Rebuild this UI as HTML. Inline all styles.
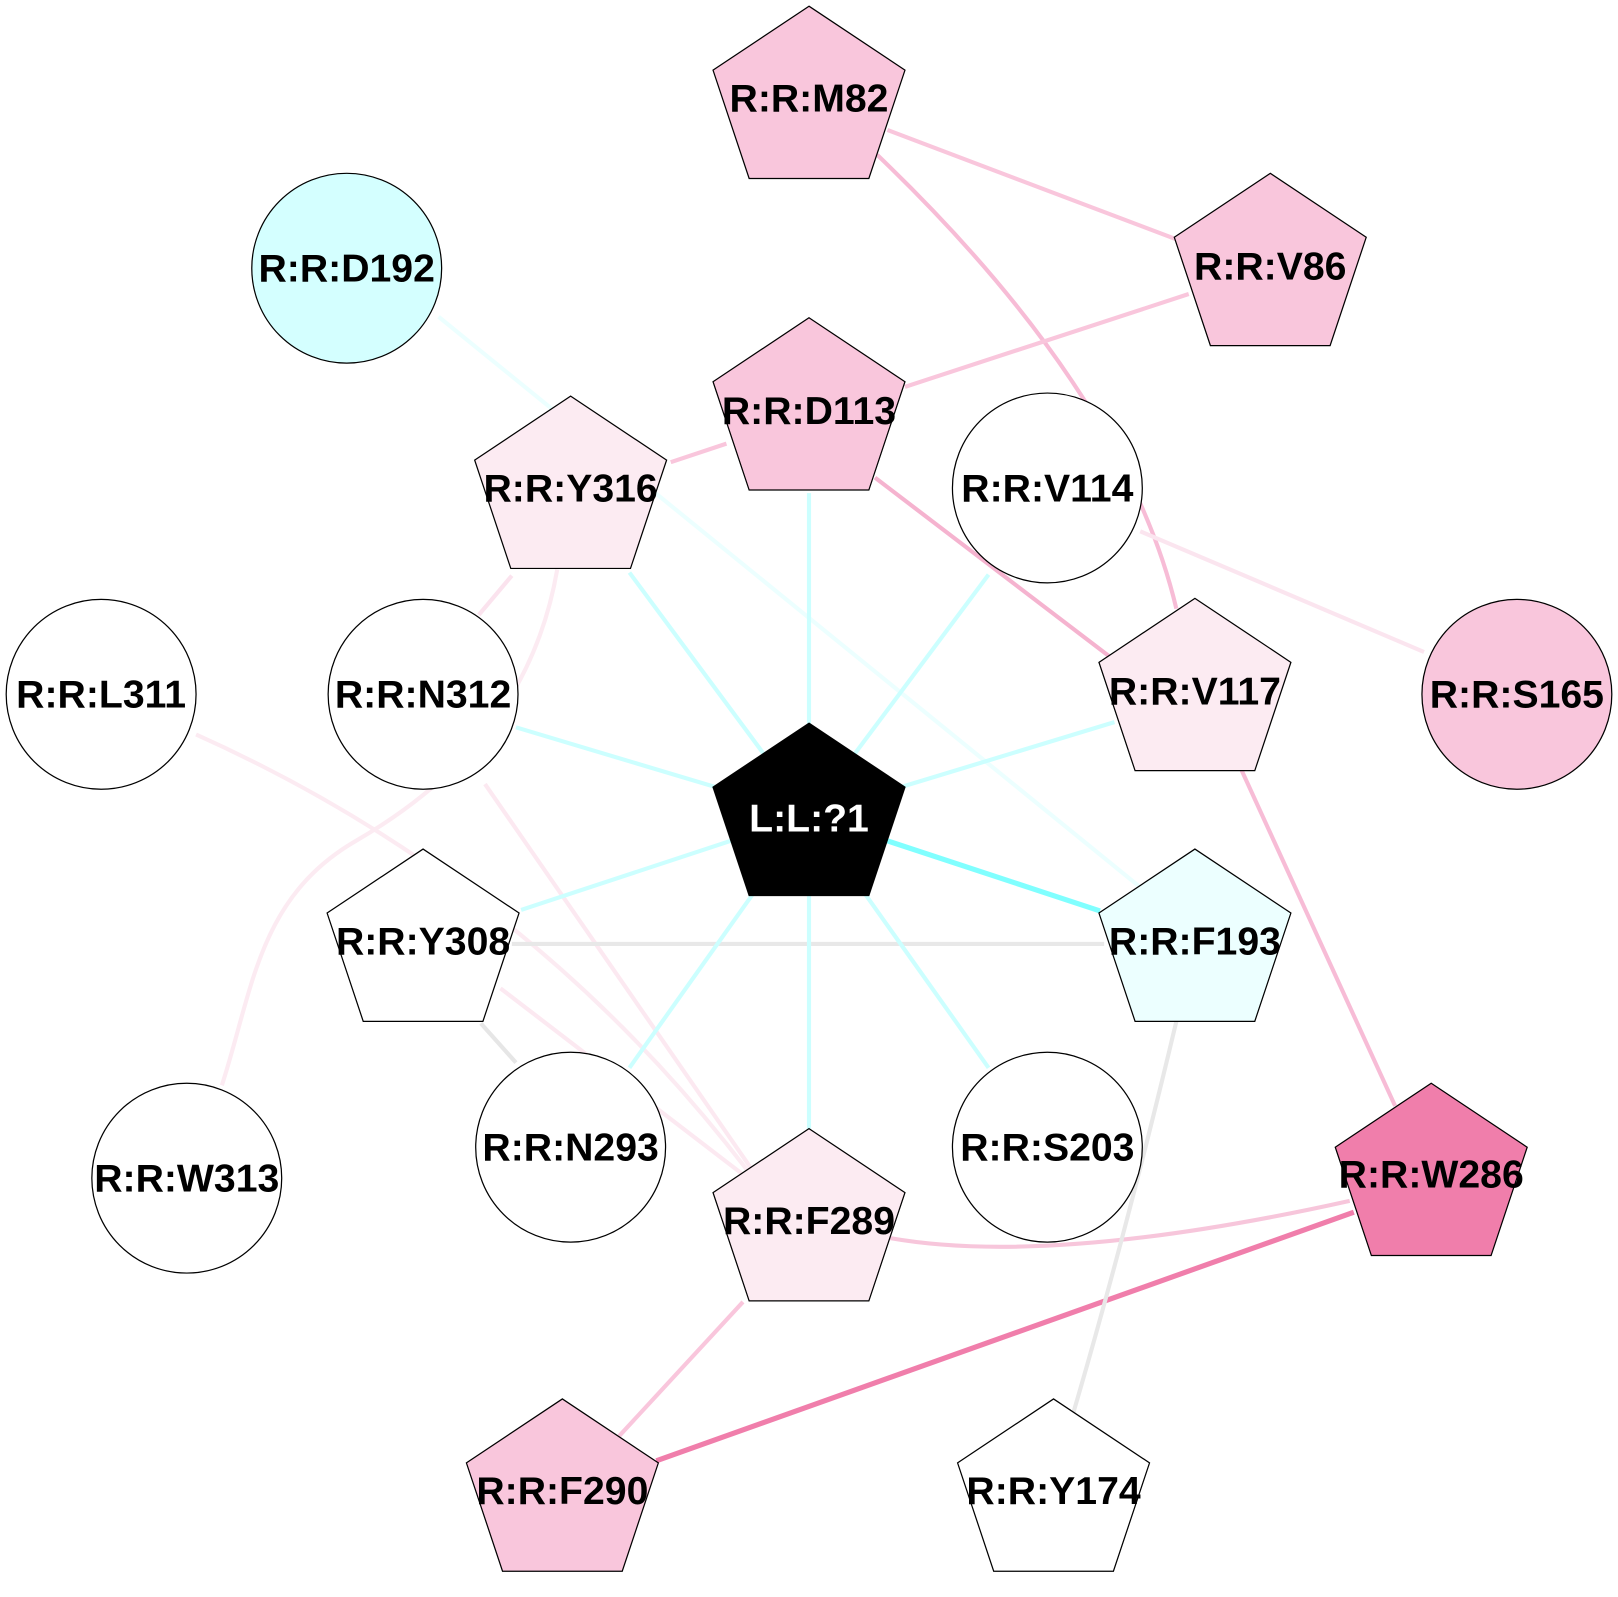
<!DOCTYPE html>
<html><head><meta charset="utf-8"><style>
html,body{margin:0;padding:0;background:#fff}
svg{display:block}
text{font-family:"Liberation Sans",Arial,sans-serif;font-weight:bold;font-size:38px;text-anchor:middle}
</style></head><body>
<svg width="1618" height="1597" viewBox="0 0 1568 1548" preserveAspectRatio="none" xmlns="http://www.w3.org/2000/svg">
<defs>
<polygon id="p" points="0,0 93,62 58,167 -58,167 -93,62" stroke="#000" stroke-width="1.2"/>
</defs>
<g fill="none" stroke-linecap="butt">
<line x1="860" y1="126" x2="1140" y2="232" stroke="#f9c6dc" stroke-width="4"/>
<path d="M850,150 Q1090,380 1140,590" stroke="#f7bcd6" stroke-width="4"/>
<line x1="1152" y1="285" x2="877" y2="375" stroke="#f9c6dc" stroke-width="4"/>
<line x1="704" y1="430" x2="650" y2="448" stroke="#f9c6dc" stroke-width="4"/>
<line x1="848" y1="463" x2="1080" y2="640" stroke="#f5b3cf" stroke-width="4"/>
<line x1="1105" y1="515" x2="1380" y2="632" stroke="#fbe5ef" stroke-width="4"/>
<line x1="1197" y1="733" x2="1352" y2="1072" stroke="#f7bcd6" stroke-width="4"/>
<path d="M1308,1164 Q1020,1228 862,1200" stroke="#f7c6db" stroke-width="4"/>
<line x1="1312" y1="1175" x2="636" y2="1416" stroke="#f07eab" stroke-width="5"/>
<line x1="720" y1="1262" x2="600" y2="1392" stroke="#f9c6dc" stroke-width="4"/>
<line x1="496" y1="558" x2="464" y2="596" stroke="#fbe3ee" stroke-width="4"/>
<path d="M540,552 C518,680 440,760 345,815 S245,960 215,1052" stroke="#fcebf2" stroke-width="4"/>
<path d="M190,712 Q520,860 736,1150" stroke="#fcebf2" stroke-width="4"/>
<line x1="470" y1="760" x2="740" y2="1150" stroke="#fce9f1" stroke-width="4"/>
<line x1="485" y1="958" x2="735" y2="1150" stroke="#fce9f1" stroke-width="4"/>
<line x1="496" y1="915" x2="1070" y2="915" stroke="#e8e8e8" stroke-width="4"/>
<line x1="466" y1="992" x2="500" y2="1030" stroke="#e6e6e6" stroke-width="4"/>
<path d="M1140,990 Q1090,1200 1040,1370" stroke="#e8e8e8" stroke-width="4"/>
<line x1="425" y1="307" x2="1105" y2="860" stroke="#ecffff" stroke-width="4"/>
<line x1="784" y1="478" x2="784" y2="790" stroke="#ccffff" stroke-width="4"/>
<line x1="610" y1="555" x2="784" y2="790" stroke="#ccffff" stroke-width="4"/>
<line x1="958" y1="557" x2="784" y2="790" stroke="#ccffff" stroke-width="4"/>
<line x1="500" y1="705" x2="784" y2="790" stroke="#ccffff" stroke-width="4"/>
<line x1="1080" y1="700" x2="784" y2="790" stroke="#ccffff" stroke-width="4"/>
<line x1="505" y1="882" x2="784" y2="790" stroke="#ccffff" stroke-width="4"/>
<line x1="610" y1="1035" x2="784" y2="790" stroke="#ccffff" stroke-width="4"/>
<line x1="784" y1="1094" x2="784" y2="790" stroke="#ccffff" stroke-width="4"/>
<line x1="958" y1="1035" x2="784" y2="790" stroke="#ccffff" stroke-width="4"/>
<line x1="1066" y1="883" x2="784" y2="790" stroke="#80ffff" stroke-width="5"/>
</g>
<g stroke="#000" stroke-width="1.2">
<circle cx="336" cy="260" r="92" fill="#d4ffff"/>
<circle cx="1015" cy="473" r="92" fill="#fff"/>
<circle cx="1470" cy="673" r="92" fill="#f9c6dc"/>
<circle cx="98" cy="673" r="92" fill="#fff"/>
<circle cx="410" cy="673" r="92" fill="#fff"/>
<circle cx="553" cy="1112" r="92" fill="#fff"/>
<circle cx="1015" cy="1112" r="92" fill="#fff"/>
<circle cx="181" cy="1142" r="92" fill="#fff"/>
</g>
<use href="#p" x="784" y="6" fill="#f9c6dc"/>
<use href="#p" x="1231" y="168" fill="#f9c6dc"/>
<use href="#p" x="784" y="308" fill="#f9c6dc"/>
<use href="#p" x="553" y="384" fill="#fcebf2"/>
<use href="#p" x="1158" y="580" fill="#fcebf2"/>
<use href="#p" x="784" y="701" fill="#000"/>
<use href="#p" x="1158" y="823" fill="#ecffff"/>
<use href="#p" x="410" y="823" fill="#fff"/>
<use href="#p" x="784" y="1094" fill="#fcebf2"/>
<use href="#p" x="1387" y="1050" fill="#f07eab"/>
<use href="#p" x="545" y="1356" fill="#f9c6dc"/>
<use href="#p" x="1021" y="1356" fill="#fff"/>
<text x="784" y="108">R:R:M82</text>
<text x="1231" y="271">R:R:V86</text>
<text x="784" y="411">R:R:D113</text>
<text x="553" y="486">R:R:Y316</text>
<text x="1158" y="683">R:R:V117</text>
<text x="784" y="806" fill="#fff">L:L:?1</text>
<text x="1158" y="925">R:R:F193</text>
<text x="410" y="925">R:R:Y308</text>
<text x="784" y="1196">R:R:F289</text>
<text x="1387" y="1151">R:R:W286</text>
<text x="545" y="1458">R:R:F290</text>
<text x="1021" y="1458">R:R:Y174</text>
<text x="336" y="273">R:R:D192</text>
<text x="1015" y="486">R:R:V114</text>
<text x="1470" y="686">R:R:S165</text>
<text x="98" y="686">R:R:L311</text>
<text x="410" y="686">R:R:N312</text>
<text x="553" y="1125">R:R:N293</text>
<text x="1015" y="1125">R:R:S203</text>
<text x="181" y="1155">R:R:W313</text>
</svg>
</body></html>
